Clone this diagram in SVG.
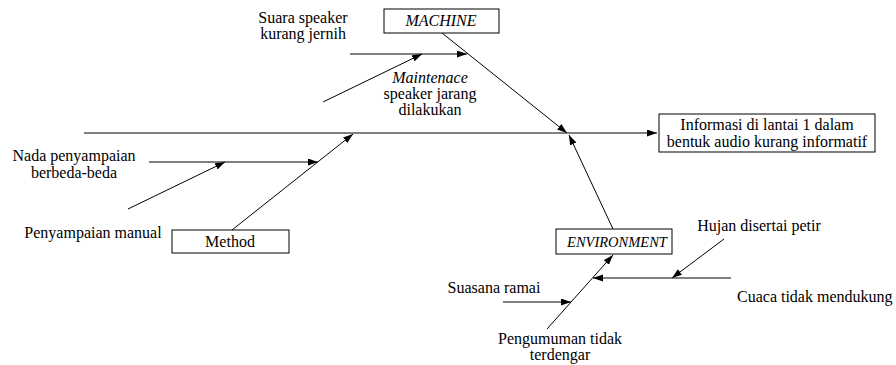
<svg xmlns="http://www.w3.org/2000/svg" width="896" height="365" viewBox="0 0 896 365">
  <style>
    .box { fill: #fff; stroke: #000; stroke-width: 1; }
    .ln { fill: none; stroke: #000; stroke-width: 1; }
    .arr { marker-end: url(#ah); }
    text { font-family: "Liberation Serif", "Times New Roman", serif; font-size: 16px; fill: #000; }
    .c { text-anchor: middle; }
    .it { font-style: italic; }
  </style>
  <defs>
    <marker id="ah" markerUnits="userSpaceOnUse" markerWidth="11" markerHeight="8" refX="10" refY="3.5" orient="auto">
      <path d="M0,0 L10,3.5 L0,7 z" fill="#000"/>
    </marker>
  </defs>
  <rect width="896" height="365" fill="#fff"/>

  <g id="connectors">
    <path class="ln arr" d="M84,133 H657"/>
    <path class="ln arr" d="M442,33 L567,133"/>
    <path class="ln arr" d="M350,54 H467"/>
    <path class="ln arr" d="M323,102 L422,54"/>
    <path class="ln arr" d="M232,230 L353,134"/>
    <path class="ln arr" d="M149,162 H318"/>
    <path class="ln arr" d="M128,209 L225,162"/>
    <path class="ln arr" d="M613,229 L569,135"/>
    <path class="ln arr" d="M547,329 L613,255"/>
    <path class="ln arr" d="M503,302 H571"/>
    <path class="ln arr" d="M731,278 H593"/>
    <path class="ln arr" d="M724,239 L672,278"/>
  </g>

  <g id="effect">
    <rect class="box" x="659" y="114" width="216" height="38"/>
    <text class="c" x="767" y="130">Informasi di lantai 1 dalam</text>
    <text class="c" x="767" y="147">bentuk audio kurang informatif</text>
  </g>

  <g id="machine">
    <rect class="box" x="384" y="9" width="115" height="24"/>
    <text class="c it" x="441" y="26">MACHINE</text>
  </g>

  <g id="method">
    <rect class="box" x="172" y="230" width="117" height="23"/>
    <text class="c" x="230" y="247">Method</text>
  </g>

  <g id="environment">
    <rect class="box" x="556" y="229" width="116" height="25"/>
    <text class="c it" x="617" y="247" style="font-size:14.5px">ENVIRONMENT</text>
  </g>

  <g id="cause-suara">
    <text class="c" x="303" y="23">Suara speaker</text>
    <text class="c" x="303" y="39">kurang jernih</text>
  </g>

  <g id="cause-maintenance">
    <text class="c it" x="430" y="83">Maintenace</text>
    <text class="c" x="430" y="99">speaker jarang</text>
    <text class="c" x="430" y="115">dilakukan</text>
  </g>

  <g id="cause-nada">
    <text class="c" x="74" y="161">Nada penyampaian</text>
    <text class="c" x="74" y="178">berbeda-beda</text>
  </g>

  <g id="cause-manual">
    <text class="c" x="93" y="238">Penyampaian manual</text>
  </g>

  <g id="cause-hujan">
    <text class="c" x="759" y="231">Hujan disertai petir</text>
  </g>

  <g id="cause-cuaca">
    <text x="737" y="302">Cuaca tidak mendukung</text>
  </g>

  <g id="cause-suasana">
    <text class="c" x="494" y="293">Suasana ramai</text>
  </g>

  <g id="cause-pengumuman">
    <text class="c" x="560" y="344">Pengumuman tidak</text>
    <text class="c" x="560" y="360">terdengar</text>
  </g>
</svg>
